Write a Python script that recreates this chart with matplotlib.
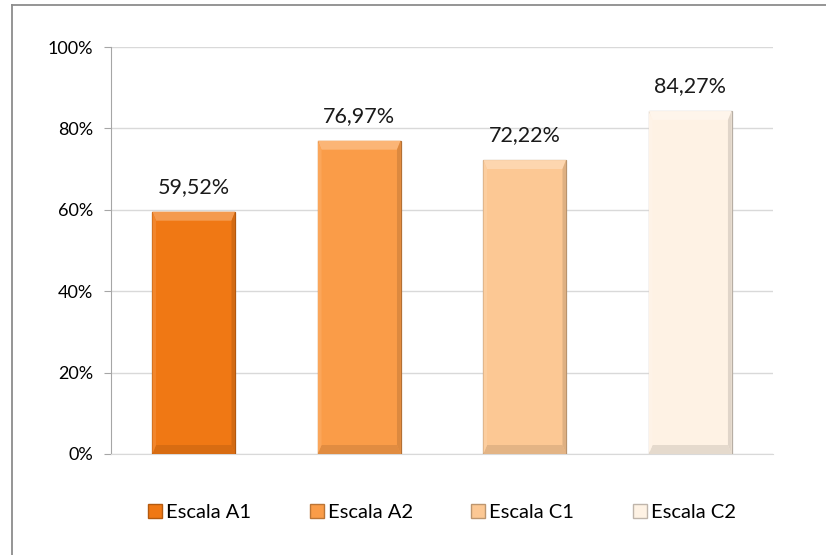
import numpy as np
import matplotlib.pyplot as plt
from matplotlib.patches import Rectangle, Polygon
from matplotlib.lines import Line2D
import matplotlib.colors as mcolors

plt.rcParams['font.family'] = ['Lato', 'DejaVu Sans']

categorias = ["Escala A1", "Escala A2", "Escala C1", "Escala C2"]
valores = [59.52, 76.97, 72.22, 84.27]
etiquetas = ["59,52%", "76,97%", "72,22%", "84,27%"]
colores = ["#F07814", "#FA9C48", "#FCC894", "#FEF2E4"]
yticks = [0, 20, 40, 60, 80, 100]
ytick_labels = ["0%", "20%", "40%", "60%", "80%", "100%"]

fig = plt.figure(figsize=(8.26, 5.55), dpi=100)
ax = fig.add_axes([0.1344, 0.182, 0.8014, 0.7333])

# marco de la figura
fig.add_artist(Line2D([12/826, 12/826], [0, 1 - 5/555], transform=fig.transFigure,
                      color="#8C8C8C", lw=1.3))
fig.add_artist(Line2D([12/826, 1], [1 - 5/555, 1 - 5/555], transform=fig.transFigure,
                      color="#8C8C8C", lw=1.3))

x = np.arange(len(categorias))
ancho = 0.5

def oscurecer(c, f):
    r, g, b = mcolors.to_rgb(c)
    return (r * f, g * f, b * f)

def aclarar(c, f):
    r, g, b = mcolors.to_rgb(c)
    return (r + (1 - r) * f, g + (1 - g) * f, b + (1 - b) * f)

for xi, v, c in zip(x, valores, colores):
    ax.bar(xi, v, width=ancho, color=c, edgecolor=oscurecer(c, 0.72), linewidth=0.9, zorder=3)
    # efecto bisel
    x0, x1 = xi - ancho / 2, xi + ancho / 2
    bx = 0.022
    by = 2.2
    ax.add_patch(Polygon([[x0, v], [x1, v], [x1 - bx, v - by], [x0 + bx, v - by]],
                         closed=True, color=aclarar(c, 0.25), lw=0, zorder=4))
    ax.add_patch(Polygon([[x0, 0], [x1, 0], [x1 - bx, by], [x0 + bx, by]],
                         closed=True, color=oscurecer(c, 0.9), lw=0, zorder=4))
    ax.add_patch(Polygon([[x1, 0], [x1, v], [x1 - bx, v - by], [x1 - bx, by]],
                         closed=True, color=oscurecer(c, 0.88), lw=0, zorder=4))
    ax.add_patch(Polygon([[x0, 0], [x0, v], [x0 + bx, v - by], [x0 + bx, by]],
                         closed=True, color=aclarar(c, 0.1), lw=0, zorder=4))

for xi, v, t in zip(x, valores, etiquetas):
    ax.text(xi, v + 3.6, t, ha="center", va="bottom", fontsize=15.5, color="#1A1A1A")

ax.set_xlim(-0.5, len(categorias) - 0.5)
ax.set_ylim(0, 100)
ax.set_yticks(yticks)
ax.set_yticklabels(ytick_labels, fontsize=13)
ax.set_xticks([])
ax.yaxis.grid(True, color="#D9D9D9", lw=1.0, zorder=0)
ax.set_axisbelow(True)
for s in ["top", "right"]:
    ax.spines[s].set_visible(False)
ax.spines["left"].set_color("#A6A6A6")
ax.spines["bottom"].set_color("#D9D9D9")
ax.tick_params(axis="y", length=5, color="#A6A6A6", pad=8)

handles = [Rectangle((0, 0), 1, 1, facecolor=c, edgecolor=oscurecer(c, 0.75)) for c in colores]
ax.legend(handles, categorias, loc="upper center", bbox_to_anchor=(0.5, -0.078), ncol=4,
          frameon=False, fontsize=14.5, handlelength=0.7, handleheight=0.7,
          handletextpad=0.2, columnspacing=2.9)

plt.savefig("out.png", dpi=100)
